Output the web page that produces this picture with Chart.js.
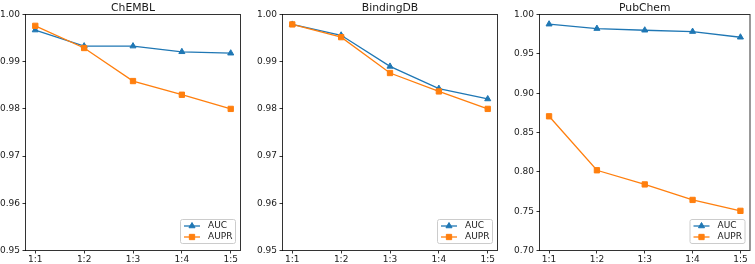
<!DOCTYPE html>
<html>
<head>
<meta charset="utf-8">
<script src="https://cdn.jsdelivr.net/npm/chart.js@4.4.1/dist/chart.umd.min.js"></script>
<style>
  html, body { margin: 0; padding: 0; background: #fff; }
  #wrap { position: relative; width: 755px; height: 264px; overflow: hidden; background: #fff; }
  #wrap canvas { position: absolute; left: 0; top: 0; }
</style>
</head>
<body>
<div id="wrap">
  <canvas id="c1" width="755" height="264"></canvas>
  <canvas id="c2" width="755" height="264"></canvas>
  <canvas id="c3" width="755" height="264"></canvas>
</div>
<script>
// ---- data ----
const categories = ['1:1', '1:2', '1:3', '1:4', '1:5'];
const seriesNames = ['AUC', 'AUPR'];
const panelTitles = ['ChEMBL', 'BindingDB', 'PubChem'];

const chemblAUC   = [0.9967, 0.9933, 0.9933, 0.9921, 0.9918];
const chemblAUPR  = [0.9976, 0.9929, 0.9859, 0.9830, 0.9800];
const bindingAUC  = [0.9979, 0.9956, 0.9890, 0.9843, 0.9821];
const bindingAUPR = [0.9979, 0.9952, 0.9876, 0.9837, 0.9800];
const pubchemAUC  = [0.9877, 0.9821, 0.9800, 0.9783, 0.9711];
const pubchemAUPR = [0.8706, 0.8020, 0.7840, 0.7643, 0.7504];

const yTicksNarrow = [0.95, 0.96, 0.97, 0.98, 0.99, 1.00];
const yTicksWide   = [0.70, 0.75, 0.80, 0.85, 0.90, 0.95, 1.00];

// ---- styling / layout ----
const BLUE = '#1f77b4', ORANGE = '#ff7f0e';
const TOP = 14.5, BOTTOM = 250.5;
const panels = [
  { id: 'c1', left: 25.5,  right: 240.5, auc: chemblAUC,  aupr: chemblAUPR,  ticks: yTicksNarrow, title: panelTitles[0] },
  { id: 'c2', left: 282.5, right: 497.5, auc: bindingAUC, aupr: bindingAUPR, ticks: yTicksNarrow, title: panelTitles[1] },
  { id: 'c3', left: 539.5, right: 754.5, auc: pubchemAUC, aupr: pubchemAUPR, ticks: yTicksWide,   title: panelTitles[2] }
];
const Y_AXIS_W = 25.5;
const FONT = 'DejaVu Sans';
const TICK_SIZE = 9;
const TITLE_SIZE = 10.8;
const LEGEND_SIZE = 9;

const frameTitleLegend = {
  id: 'frameTitleLegend',
  afterDatasetsDraw(chart, args, opts) {
    const ctx = chart.ctx, ca = chart.chartArea;
    ctx.save();
    // spines
    ctx.strokeStyle = 'rgba(0,0,0,0.8)';
    ctx.lineWidth = 1;
    ctx.strokeRect(ca.left, ca.top, ca.right - ca.left, ca.bottom - ca.top);
    // title centred over the plot area
    ctx.fillStyle = '#1a1a1a';
    ctx.font = TITLE_SIZE + 'px "' + FONT + '"';
    ctx.textAlign = 'center';
    ctx.textBaseline = 'alphabetic';
    ctx.fillText(opts.text, (ca.left + ca.right) / 2, 10.8);
    // legend
    const w = 55, h = 24;
    const x = ca.right - 5 - w, y = ca.bottom - 7 - h;
    ctx.beginPath();
    const r = 2;
    ctx.moveTo(x + r, y);
    ctx.arcTo(x + w, y, x + w, y + h, r);
    ctx.arcTo(x + w, y + h, x, y + h, r);
    ctx.arcTo(x, y + h, x, y, r);
    ctx.arcTo(x, y, x + w, y, r);
    ctx.closePath();
    ctx.fillStyle = 'rgba(255,255,255,0.8)';
    ctx.fill();
    ctx.strokeStyle = '#cccccc';
    ctx.lineWidth = 1;
    ctx.stroke();
    chart.data.datasets.forEach((ds, i) => {
      const ry = y + 6.5 + i * 11;
      ctx.beginPath();
      ctx.strokeStyle = ds.borderColor;
      ctx.lineWidth = ds.borderWidth;
      ctx.moveTo(x + 3.5, ry);
      ctx.lineTo(x + 19.5, ry);
      ctx.stroke();
      ctx.fillStyle = ds.pointBackgroundColor;
      ctx.strokeStyle = ds.pointBorderColor;
      ctx.lineWidth = ds.pointBorderWidth;
      Chart.helpers.drawPoint(ctx, { pointStyle: ds.pointStyle, radius: ds.pointRadius, borderWidth: ds.pointBorderWidth, rotation: 0 }, x + 11.5, ry);
      ctx.fillStyle = '#1a1a1a';
      ctx.font = LEGEND_SIZE + 'px "' + FONT + '"';
      ctx.textBaseline = 'middle';
      ctx.textAlign = 'left';
      ctx.fillText(ds.label, x + 27.5, ry);
    });
    ctx.restore();
  }
};

function makeDataset(label, values, color, style, radius, order) {
  return {
    label: label,
    data: values.map((v, i) => ({ x: i, y: v })),
    borderColor: color,
    backgroundColor: color,
    pointBackgroundColor: color,
    pointBorderColor: color,
    pointBorderWidth: 1,
    pointStyle: style,
    pointRadius: radius,
    borderWidth: 1.3,
    tension: 0,
    order: order
  };
}

panels.forEach(p => {
  new Chart(document.getElementById(p.id), {
    type: 'line',
    data: {
      datasets: [
        makeDataset(seriesNames[0], p.auc, BLUE, 'triangle', 3.5, 1),
        makeDataset(seriesNames[1], p.aupr, ORANGE, 'rect', 3.75, 0)
      ]
    },
    plugins: [frameTitleLegend],
    options: {
      responsive: false,
      animation: false,
      devicePixelRatio: 1,
      layout: {
        padding: { left: p.left - Y_AXIS_W, right: 755 - p.right, top: TOP, bottom: 0 }
      },
      plugins: {
        legend: { display: false },
        tooltip: { enabled: false },
        title: { display: false },
        frameTitleLegend: { text: p.title }
      },
      scales: {
        x: {
          type: 'linear',
          min: -0.2,
          max: 4.2,
          afterBuildTicks: (scale) => { scale.ticks = categories.map((c, i) => ({ value: i })); },
          afterFit: (scale) => { scale.height = 264 - BOTTOM; },
          ticks: {
            callback: (v) => categories[v],
            color: '#1a1a1a',
            font: { family: FONT, size: TICK_SIZE },
            padding: 1,
            maxRotation: 0,
            autoSkip: false
          },
          grid: { display: true, drawOnChartArea: false, drawTicks: true, tickLength: 3, color: '#000', lineWidth: 0.8 },
          border: { display: false }
        },
        y: {
          type: 'linear',
          min: p.ticks[0],
          max: p.ticks[p.ticks.length - 1],
          afterBuildTicks: (scale) => { scale.ticks = p.ticks.map(v => ({ value: v })); },
          afterFit: (scale) => { scale.width = Y_AXIS_W; },
          ticks: {
            callback: (v) => v.toFixed(2),
            color: '#1a1a1a',
            font: { family: FONT, size: TICK_SIZE },
            padding: 2.5,
            autoSkip: false
          },
          grid: { display: true, drawOnChartArea: false, drawTicks: true, tickLength: 3, color: '#000', lineWidth: 0.8 },
          border: { display: false }
        }
      }
    }
  });
});
</script>
</body>
</html>
